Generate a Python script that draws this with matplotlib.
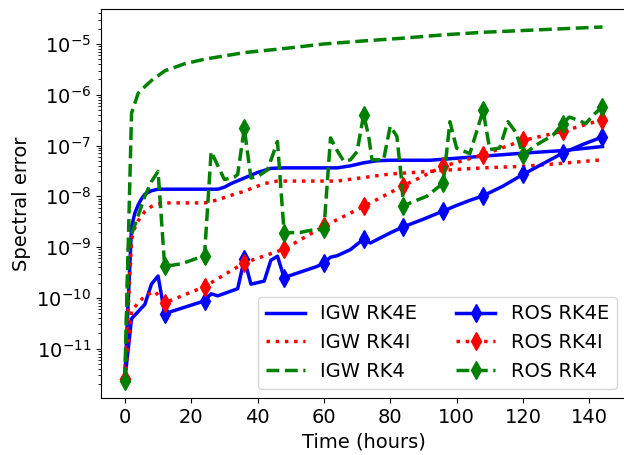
import numpy as np
import matplotlib
matplotlib.use("Agg")
import matplotlib.pyplot as plt

# Data (values as log10 of spectral error)
igw_rk4e_t = [0, 2, 3, 4, 5, 6, 8, 10, 28, 30, 32, 36, 40, 44, 48, 64, 68, 72, 76, 80, 92, 100, 108, 120, 132, 144]
igw_rk4e_log = [-11.55, -8.60, -8.33, -8.17, -8.05, -7.96, -7.89, -7.86, -7.86, -7.82, -7.75, -7.64, -7.53, -7.45,
                -7.44, -7.44, -7.40, -7.34, -7.30, -7.29, -7.29, -7.25, -7.21, -7.15, -7.10, -7.02]

igw_rk4i_t = [0, 2, 3, 4, 6, 8, 10, 12, 24, 28, 32, 36, 42, 46, 64, 72, 80, 92, 100, 108, 120, 132, 144]
igw_rk4i_log = [-11.55, -8.85, -8.62, -8.48, -8.30, -8.20, -8.15, -8.13, -8.13, -8.07, -7.98, -7.90, -7.75, -7.70,
                -7.70, -7.63, -7.56, -7.51, -7.47, -7.44, -7.41, -7.35, -7.28]

igw_rk4_t = [0, 2, 4, 6, 8, 12, 18, 24, 36, 48, 60, 72, 84, 96, 108, 120, 132, 144]
igw_rk4_log = [-11.6, -6.36, -5.97, -5.84, -5.72, -5.53, -5.39, -5.30, -5.17, -5.09, -5.00, -4.94, -4.885, -4.82,
               -4.77, -4.735, -4.70, -4.665]

ros_rk4e_t = [0, 2, 6, 8, 10, 12, 24, 26, 28, 34, 36, 38, 42, 44, 46, 48, 58, 60, 62, 64, 68, 72, 74, 80, 84, 90,
              96, 100, 104, 108, 114, 120, 126, 132, 138, 144]
ros_rk4e_log = [-11.6, -10.41, -10.13, -9.73, -9.57, -10.31, -10.06, -9.92, -9.96, -9.82, -9.24, -9.73, -9.67, -9.26,
                -9.18, -9.60, -9.38, -9.31, -9.20, -9.17, -9.05, -8.84, -8.92, -8.72, -8.60, -8.45, -8.29, -8.18,
                -8.08, -7.99, -7.80, -7.57, -7.36, -7.15, -6.98, -6.83]

ros_rk4i_t = [0, 2, 6, 9, 12, 24, 36, 48, 60, 72, 84, 96, 108, 120, 132, 144]
ros_rk4i_log = [-11.6, -10.25, -9.96, -9.87, -10.10, -9.78, -9.31, -9.04, -8.59, -8.20, -7.79, -7.41, -7.18, -6.90,
                -6.72, -6.49]

ros_rk4_t = [0, 1, 2, 4, 6, 8, 10, 12, 17, 24, 26, 30, 33, 34, 36, 38, 40, 43, 46, 48, 53, 56, 60, 62, 64, 66, 68,
             70, 72, 73.5, 74.5, 78, 80, 82, 83.4, 84, 86, 91, 96, 98, 100, 104, 108, 110, 113, 115.5, 118, 120,
             124, 129, 132, 134, 137, 139, 141, 144]
ros_rk4_log = [-11.63, -9.05, -8.75, -8.38, -8.0, -7.71, -7.51, -9.38, -9.33, -9.17, -7.12, -7.67, -7.62, -7.57,
               -6.66, -7.64, -7.61, -7.48, -6.92, -8.72, -8.71, -8.67, -8.65, -6.85, -7.10, -7.31, -7.28, -7.12,
               -6.39, -6.82, -7.28, -7.28, -6.62, -6.82, -7.67, -8.20, -8.13, -8.0, -7.74, -6.53, -7.05, -7.16,
               -6.31, -7.08, -7.05, -6.53, -6.75, -7.19, -6.99, -6.80, -6.57, -6.44, -6.51, -6.57, -6.41, -6.24]

series = [
    ("IGW RK4E", igw_rk4e_t, igw_rk4e_log, "b", "-", False),
    ("IGW RK4I", igw_rk4i_t, igw_rk4i_log, "r", ":", False),
    ("IGW RK4", igw_rk4_t, igw_rk4_log, "g", "--", False),
    ("ROS RK4E", ros_rk4e_t, ros_rk4e_log, "b", "-", True),
    ("ROS RK4I", ros_rk4i_t, ros_rk4i_log, "r", ":", True),
    ("ROS RK4", ros_rk4_t, ros_rk4_log, "g", "--", True),
]

plt.rcParams['font.size'] = 14
fig = plt.figure(figsize=(6.24, 4.55), dpi=100)
ax = fig.add_axes([0.1619, 0.1246, 0.8419, 0.855])

for label, t, lg, col, ls, mark in series:
    t = np.asarray(t, dtype=float)
    y = np.power(10.0, np.asarray(lg))
    kw = {}
    if mark:
        kw = dict(marker="d", markersize=9, markevery=list(np.isclose(np.mod(t, 12), 0)))
    ax.semilogy(t, y, color=col, linestyle=ls, linewidth=2.5, label=label, **kw)

ax.set_xlabel("Time (hours)")
ax.set_ylabel("Spectral error")
ax.set_xticks([0, 20, 40, 60, 80, 100, 120, 140])
ax.legend(ncol=2, loc="lower right", fontsize=14)

fig.savefig("out.png", dpi=100)
